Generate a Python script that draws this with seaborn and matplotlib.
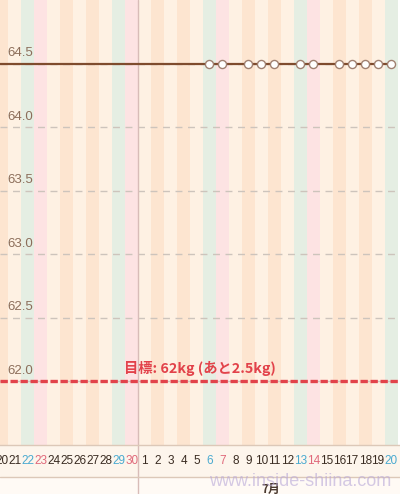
import pandas as pd
import numpy as np
import matplotlib
matplotlib.use("Agg")
import matplotlib.pyplot as plt
from matplotlib.patches import Rectangle
import seaborn as sns

# データ
start = pd.Timestamp("2019-06-20")
days = pd.date_range("2019-06-20", "2019-07-20")
day_labels = [str(d.day) for d in days]

weight_dates = ["2019-06-19", "2019-07-06", "2019-07-07", "2019-07-09", "2019-07-10",
                "2019-07-11", "2019-07-13", "2019-07-14", "2019-07-16", "2019-07-17",
                "2019-07-18", "2019-07-19", "2019-07-20"]
weights = [64.5, 64.5, 64.5, 64.5, 64.5, 64.5, 64.5, 64.5, 64.5, 64.5, 64.5, 64.5, 64.5]
measured = [False] + [True] * 12

goal = 62.0
goal_text = "目標: 62kg (あと2.5kg)"
y_ticks = [62.0, 62.5, 63.0, 63.5, 64.0, 64.5]

df = pd.DataFrame({"date": pd.to_datetime(weight_dates), "weight": weights, "measured": measured})
df["x"] = (df["date"] - start).dt.days

sns.set_style("white")
plt.rcParams["font.family"] = ["Liberation Sans", "Noto Sans CJK JP", "DejaVu Sans"]

fig = plt.figure(figsize=(4, 4.94), dpi=100, facecolor="#fffaf5")
ax = fig.add_axes([0, 49 / 494, 1, 445 / 494])

# 日ごとのストライプ
stripe = {"mon": "#fef1e3", "tue": "#fde5d0", "wed": "#fef1e3", "thu": "#fde5d0",
          "fri": "#fef1e3", "sat": "#e5eee3", "sun": "#fde3e3"}
names = ["mon", "tue", "wed", "thu", "fri", "sat", "sun"]
for i, d in enumerate(days):
    ax.axvspan(i - 0.5, i + 0.5, color=stripe[names[d.weekday()]], lw=0, zorder=0)

# 目盛り線
for y in y_ticks:
    ax.axhline(y, color="#cdc4bc", lw=1, dashes=(5, 4), zorder=1)
    ax.text(0.018, y + 0.035, f"{y:.1f}", transform=ax.get_yaxis_transform(),
            fontsize=9.5, color="#8c6e5a", ha="left", va="bottom")

# 月の境界
ax.axvline(10.5, ymin=-0.12, ymax=1, color="#d8bcb8", lw=1, clip_on=False, zorder=2)

# 体重
sns.lineplot(data=df, x="x", y="weight", color="#7f4c2e", lw=1.6, ax=ax, zorder=3)
sns.scatterplot(data=df[df["measured"]], x="x", y="weight", s=34, color="white",
                edgecolor="#a08070", linewidth=1, ax=ax, zorder=4)

# 目標
ax.axhline(goal, color="#e2424a", lw=2.4, dashes=(2.2, 0.8), zorder=3)
ax.text(15.3, goal + 0.045, goal_text, fontsize=10.3, fontweight="bold", color="#e2424a",
        ha="center", va="bottom", family=["Noto Sans CJK JP", "DejaVu Sans"])

ax.set_xlim(-0.154, 30.69)
ax.set_ylim(61.5, 65.0)
ax.set_yticks([])
ax.set_xticks(range(len(days)))
ax.set_xticklabels(day_labels, fontsize=8.5)
label_color = {"sat": "#4aaad0", "sun": "#e0687a"}
for lab, d in zip(ax.get_xticklabels(), days):
    lab.set_color(label_color.get(names[d.weekday()], "#3a2c22"))
ax.tick_params(axis="x", length=0, pad=7)
ax.set_xlabel("")
ax.set_ylabel("")
for s in ["top", "left", "right"]:
    ax.spines[s].set_visible(False)
ax.spines["bottom"].set_color("#dcc8b8")
ax.spines["bottom"].set_linewidth(1)

# ラベル帯
fig.patches.append(Rectangle((0, 17 / 494), 1, 32 / 494, transform=fig.transFigure,
                             facecolor="#fdf5ec", edgecolor="none", zorder=-1))
fig.add_artist(plt.Line2D([0, 1], [17 / 494, 17 / 494], transform=fig.transFigure,
                          color="#dcc8b8", lw=1))

fig.text(271 / 400, 5 / 494, "7月", fontsize=8.5, fontweight="bold", color="#4a3a30",
         ha="center", va="center", family=["Noto Sans CJK JP", "DejaVu Sans"])
fig.text(300 / 400, 13 / 494, "www.inside-shiina.com", fontsize=13, color="#b8a8d8",
         alpha=0.6, ha="center", va="center")

fig.savefig("out.png", dpi=100, facecolor=fig.get_facecolor())
